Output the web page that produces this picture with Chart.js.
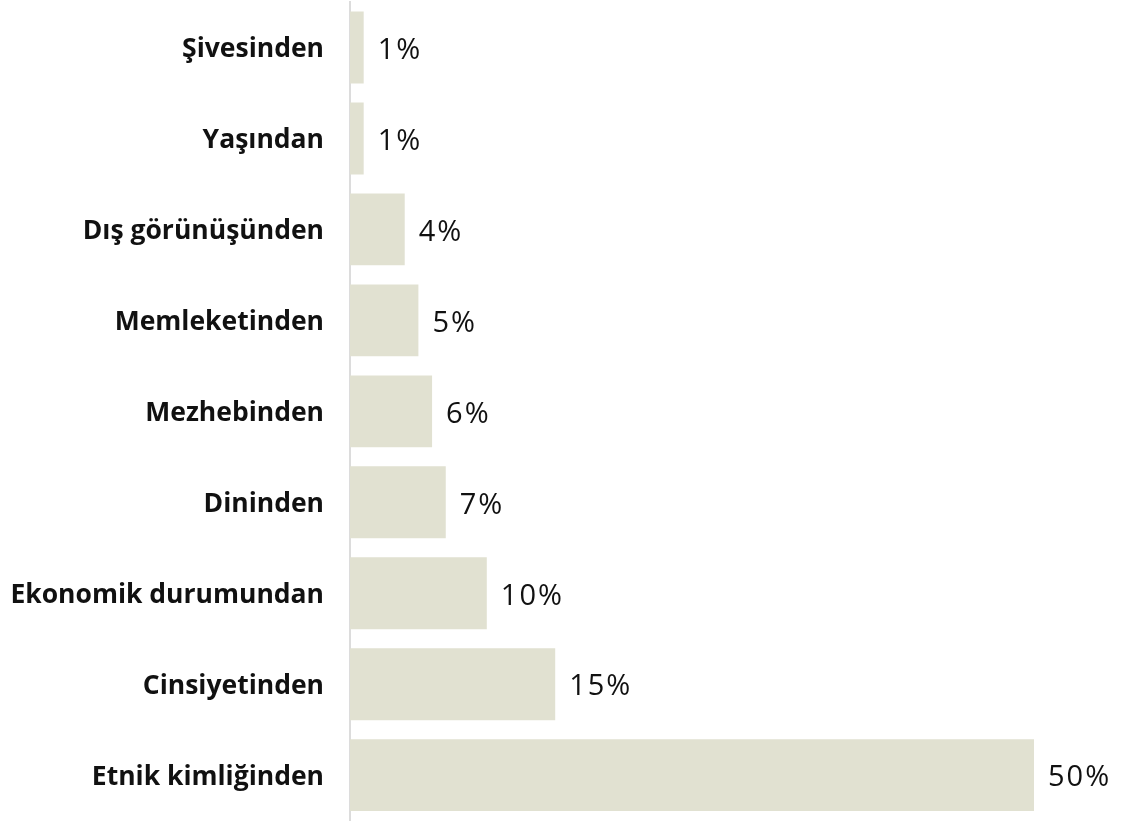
<!DOCTYPE html>
<html><head><meta charset="utf-8">
<script src="https://cdn.jsdelivr.net/npm/chart.js@4/dist/chart.umd.min.js"></script>
<style>html,body{margin:0;padding:0;background:#fff;}#wrap{width:1125px;height:822px;}</style>
</head><body><div id="wrap"><canvas id="c" width="1125" height="822"></canvas></div>
<script>
const categories = ["Şivesinden","Yaşından","Dış görünüşünden","Memleketinden","Mezhebinden","Dininden","Ekonomik durumundan","Cinsiyetinden","Etnik kimliğinden"];
const values = [1,1,4,5,6,7,10,15,50];
const valueLabels = ["1%","1%","4%","5%","6%","7%","10%","15%","50%"];

const labelPlugin = {
  id:'valueLabels',
  afterDatasetsDraw(chart){
    const ctx = chart.ctx;
    const meta = chart.getDatasetMeta(0);
    ctx.save();
    ctx.font = '400 29px "Open Sans", sans-serif';
    try { ctx.letterSpacing = '2px'; } catch(e) {}
    ctx.fillStyle = '#111';
    ctx.textBaseline = 'middle';
    ctx.textAlign = 'left';
    meta.data.forEach((el,i)=>{
      ctx.fillText(valueLabels[i], el.x + 14, el.y + 3);
    });
    ctx.restore();
  }
};

new Chart(document.getElementById('c'), {
  type:'bar',
  data:{labels:categories, datasets:[{data:values, backgroundColor:'#e1e1d1', borderWidth:0, barPercentage:0.79, categoryPercentage:1.0}]},
  options:{
    indexAxis:'y', responsive:false, animation:false,
    layout:{padding:{top:2,bottom:0,right:91,left:0}},
    plugins:{legend:{display:false}, tooltip:{enabled:false}},
    scales:{
      x:{display:false, min:0, max:50},
      y:{
        afterFit(scale){ scale.width = 350; },
        grid:{display:false, drawTicks:true, tickLength:26},
        border:{display:true, color:'#dcdcdc', width:2},
        ticks:{color:'#111', padding:0, labelOffset:2, font:{family:'"Open Sans"', weight:'bold', size:26.5, lineHeight:0.1}}
      }
    }
  },
  plugins:[labelPlugin]
});
</script></body></html>
